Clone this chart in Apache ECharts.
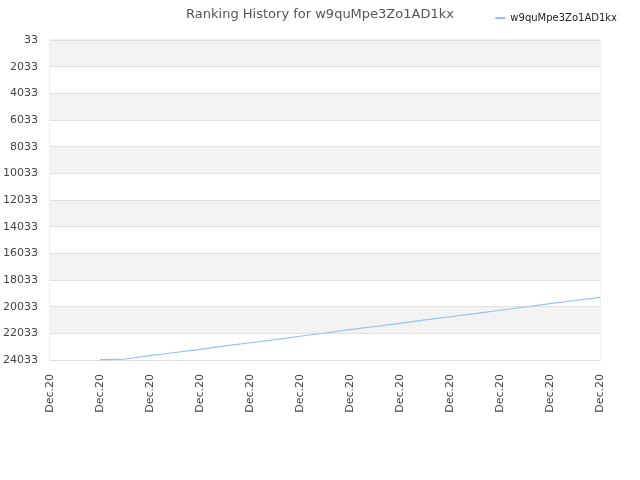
<!DOCTYPE html>
<html>
<head>
<meta charset="utf-8">
<script src="https://cdn.jsdelivr.net/npm/echarts@6/dist/echarts.min.js"></script>
<style>html,body{margin:0;padding:0;background:#fff}#c{width:640px;height:480px}</style>
</head>
<body>
<div id="c"></div>
<script>
var titleText = "Ranking History for w9quMpe3Zo1AD1kx";
var seriesName = "w9quMpe3Zo1AD1kx";
var categories = ["Dec.20","Dec.20","Dec.20","Dec.20","Dec.20","Dec.20","Dec.20","Dec.20","Dec.20","Dec.20","Dec.20","Dec.20","Dec.20","Dec.20","Dec.20","Dec.20","Dec.20","Dec.20","Dec.20","Dec.20","Dec.20","Dec.20","Dec.20"];
var ranks = [null,null,24000,23960,23710,23470,23230,22980,22740,22500,22250,22010,21760,21520,21280,21030,20790,20550,20300,20060,19810,19570,19330];
var yMin = 33, yMax = 24033, yStep = 2000;

var chart = echarts.init(document.getElementById('c'));
chart.setOption({
  animation: false,
  title: {text: titleText, left: 'center', top: 3, textStyle: {fontSize: 13, fontWeight: 'normal', color: '#555', fontFamily: 'DejaVu Sans'}},
  legend: {data: [seriesName], right: 18, top: 8, itemWidth: 10, itemHeight: 2, icon: 'rect', textStyle: {fontSize: 10, color: '#222', fontFamily: 'DejaVu Sans'}},
  grid: {left: 50, right: 40, top: 40, bottom: 120, show: true, borderColor: '#ddd', borderWidth: 1, containLabel: false, outerBoundsMode: 'none'},
  xAxis: {
    type: 'category', data: categories, boundaryGap: false,
    axisLine: {lineStyle: {color: '#ddd'}}, axisTick: {show: false},
    axisLabel: {rotate: 90, interval: 1, color: '#444', fontSize: 11, fontFamily: 'DejaVu Sans', margin: 14}
  },
  yAxis: {
    type: 'value', inverse: true, min: yMin, max: yMax, interval: yStep,
    axisLine: {show: false}, axisTick: {show: false},
    axisLabel: {color: '#444', fontSize: 11, fontFamily: 'DejaVu Sans', margin: 12, formatter: function (v) { return String(v); }},
    splitLine: {lineStyle: {color: '#e0e0e0'}},
    splitArea: {show: true, areaStyle: {color: ['#f3f3f3', '#ffffff']}}
  },
  series: [{name: seriesName, type: 'line', data: ranks, showSymbol: false, symbol: 'none', lineStyle: {color: '#92c2f2', width: 1.2}, itemStyle: {color: '#92c2f2'}}]
});
</script>
</body>
</html>
